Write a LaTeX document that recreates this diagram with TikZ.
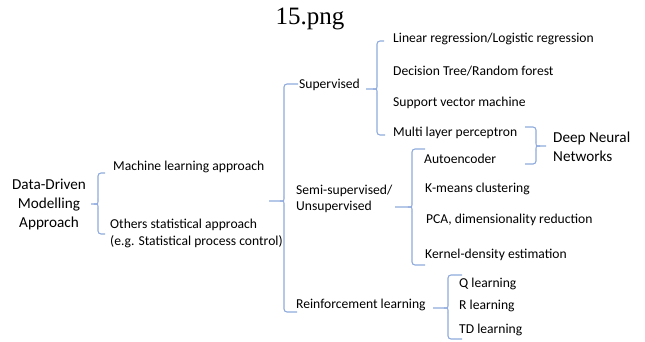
\documentclass[tikz,border=0pt]{standalone}
\usepackage{fontspec}
\setmainfont{Carlito}
\newfontfamily\titlefont{Liberation Serif}
\definecolor{brc}{HTML}{8FAADC}
\tikzset{
  br/.style={draw=brc, line width=1.1pt},
  item/.style={anchor=west, inner sep=0pt, font=\fontsize{13.6}{16.5}\selectfont, align=left},
  big/.style={inner sep=0pt, font=\fontsize{15.2}{19}\selectfont, align=center},
}
% left brace: #1 x of vertical, #2 top y, #3 bottom y, #4 mid y, #5 tick left x, #6 top end x, #7 bottom end x
\newcommand\mylbr[7]{%
  \draw[br, rounded corners=3pt] (#6,#2) -- (#1,#2) -- (#1,{#4-4});
  \draw[br] (#1,{#4-4}) .. controls (#1,#4) .. ({#1-4},#4) -- (#5,#4);
  \draw[br] ({#1-4},#4) .. controls (#1,#4) .. (#1,{#4+4});
  \draw[br, rounded corners=3pt] (#1,{#4+4}) -- (#1,#3) -- (#7,#3);
}
% right brace
\newcommand\myrbr[6]{%
  \draw[br, rounded corners=3pt] (#6,#2) -- (#1,#2) -- (#1,{#4-4});
  \draw[br] (#1,{#4-4}) .. controls (#1,#4) .. ({#1+4},#4) -- (#5,#4);
  \draw[br] ({#1+4},#4) .. controls (#1,#4) .. (#1,{#4+4});
  \draw[br, rounded corners=3pt] (#1,{#4+4}) -- (#1,#3) -- (#6,#3);
}
\begin{document}
\begin{tikzpicture}[x=1pt, y=-1pt]
\useasboundingbox (0,0) rectangle (645,341);
\node[inner sep=0pt, font=\titlefont\fontsize{25}{28}\selectfont, anchor=base] (title) at (310,24) {15.png};

\node[big] (root) at (49,204) {Data-Driven\\Modelling\\Approach};
\node[item] (ml) at (113,167) {Machine learning approach};
\node[item] (oth) at (110,233.5) {Others statistical approach\\(e.g. Statistical process control)};

\node[item] (sup) at (299,85) {Supervised};
\node[item] (semi) at (296,199) {Semi-supervised/\\Unsupervised};
\node[item] (rl) at (296,305) {Reinforcement learning};

\node[item] (lr) at (393,39) {Linear regression/Logistic regression};
\node[item] (dt) at (393,71) {Decision Tree/Random forest};
\node[item] (svm) at (393,103) {Support vector machine};
\node[item] (mlp) at (393,133) {Multi layer perceptron};

\node[item] (ae) at (424,159) {Autoencoder};
\node[item] (km) at (425,189) {K-means clustering};
\node[item] (pca) at (426,220) {PCA, dimensionality reduction};
\node[item] (kde) at (425,255) {Kernel-density estimation};

\node[item] (q) at (459,284) {Q learning};
\node[item] (r) at (459,306) {R learning};
\node[item] (td) at (459,330) {TD learning};

\node[big, anchor=west, align=left] (dnn) at (553,146.5) {Deep Neural\\Networks};

\mylbr{98}{173}{234}{204}{91}{105}{105}
\mylbr{284}{84}{312}{201}{269}{298}{297}
\mylbr{377}{41}{135}{89}{366}{384}{385}
\mylbr{412}{149}{265}{207}{395}{425}{425}
\mylbr{448}{275}{339}{308}{433}{462}{462}
\myrbr{536}{127}{164}{146}{546}{525}
\end{tikzpicture}
\end{document}
